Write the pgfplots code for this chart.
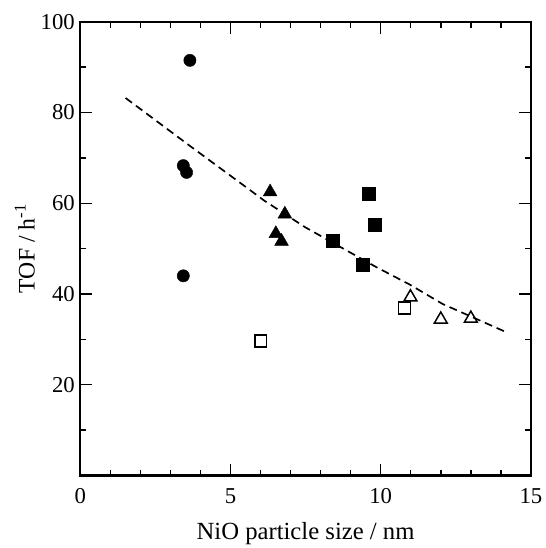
\documentclass[border=0pt]{standalone}
\usepackage{pgfplots}
\pgfplotsset{compat=1.18}
\usepackage{fontspec}
\setmainfont{Liberation Serif}
\begin{document}
\begin{tikzpicture}
\begin{axis}[
  name=ax,
  scale only axis,
  width=455bp, height=458bp,
  xmin=0, xmax=15, ymin=0, ymax=100,
  xtick={0,5,10,15}, ytick={20,40,60,80,100},
  minor xtick={1,2,3,4,6,7,8,9,11,12,13,14},
  minor ytick={10,30,50,70,90},
  tick align=inside,
  major tick length=12bp, minor tick length=6bp,
  every tick/.style={line width=1.5bp, black},
  axis line style={line width=2.2bp},
  /pgf/number format/assume math mode=true,
  ticklabel style={font=\fontsize{23}{25}\selectfont},
  xlabel={NiO particle size / nm},
  ylabel={TOF / h\textsuperscript{-1}},
  xticklabel style={yshift=-10bp},
  yticklabel style={xshift=-2bp},
  xlabel style={font=\fontsize{25}{28}\selectfont, at={(axis description cs:0.5,-0.128)}, anchor=center},
  ylabel style={font=\fontsize{24}{26}\selectfont, at={(axis description cs:-0.123,0.5)}, anchor=center},
  clip=false,
]
% dashed trend curve
\addplot[black, line width=1.7bp, dash pattern=on 8bp off 5bp] coordinates {
  (1.51,83.2) (3.70,72.4) (5.57,63.3) (6.12,60.6) (7.49,54.7) (9.86,45.9) (10.96,42.1) (12.06,37.8) (14.14,31.7)};
% filled circles
\addplot[only marks, mark=*, mark size=6.2bp, black] coordinates {
  (3.65,91.5) (3.43,68.3) (3.54,66.8) (3.43,44.0)};
% filled triangles
\addplot[only marks, mark=triangle*, mark size=8bp, black] coordinates {
  (6.32,62.5) (6.81,57.6) (6.51,53.3) (6.70,51.6)};
% filled squares
\addplot[only marks, mark=square*, mark size=6.5bp, black] coordinates {
  (9.61,62.2) (9.80,55.2) (8.41,51.7) (9.39,46.4)};
% open squares
\addplot[only marks, mark=square, mark size=6bp, black, line width=1.5bp] coordinates {
  (6.01,29.6) (10.79,36.9)};
% open triangles
\addplot[only marks, mark=triangle, mark size=7.5bp, black, line width=1.5bp] coordinates {
  (10.99,39.3) (12.0,34.4) (13.0,34.6)};
\end{axis}
\path (ax.south west) ++(-81bp,-64bp) (ax.north east) ++(12bp,22bp);
\end{tikzpicture}
\end{document}
